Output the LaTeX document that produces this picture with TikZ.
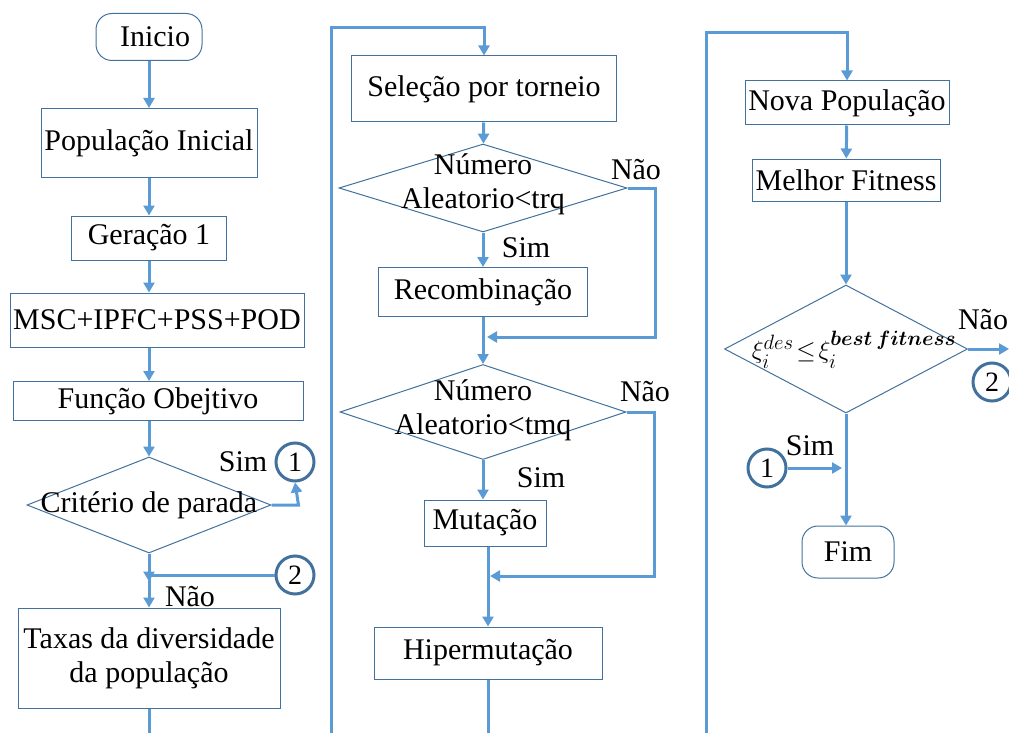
\documentclass[tikz,border=0pt]{standalone}
\usepackage{amsmath}
\usepackage{amssymb}
\usepackage{fontspec}
\setmainfont{Liberation Serif}
\usetikzlibrary{shapes.geometric,arrows.meta}
\definecolor{linhaazul}{RGB}{91,155,213}
\definecolor{bordaazul}{RGB}{65,113,156}

\begin{document}
\begin{tikzpicture}[x=1pt,y=-1pt,
    caixa/.style = {draw=bordaazul, line width=1pt, inner sep=0pt, align=center,
                    font=\fontsize{30}{34}\selectfont},
    terminal/.style = {caixa, rounded corners=16pt},
    decisao/.style = {diamond, draw=bordaazul, line width=1pt, inner sep=0pt},
    texto/.style = {inner sep=0pt, align=center, font=\fontsize{30}{34}\selectfont},
    conector/.style = {circle, draw=bordaazul, line width=3pt, inner sep=0pt,
                       minimum size=38pt, font=\fontsize{28}{30}\selectfont},
    fluxo/.style = {draw=linhaazul, line width=3pt, -{Triangle[length=10pt,width=11pt]}},
    linha/.style = {draw=linhaazul, line width=3pt}]
        \useasboundingbox (0,0) rectangle (1009,733);

        % coluna 1
        \node [terminal, minimum width=106pt, minimum height=47pt] (inicio) at (149,37) {\hspace{12pt}Inicio};
        \node [caixa, minimum width=216pt, minimum height=69pt] (popini) at (149,143) {População Inicial};
        \node [caixa, minimum width=155pt, minimum height=44pt] (ger1) at (149,238) {Geração 1};
        \node [caixa, minimum width=294pt, minimum height=54pt] (msc) at (157,320) {MSC+IPFC+PSS+POD};
        \node [caixa, minimum width=290pt, minimum height=39pt] (funcobj) at (158,401) {Função Obejtivo};
        \node [decisao, minimum width=244pt, minimum height=96pt] (crit) at (149,505) {};
        \node [texto] (crittxt) at (crit) {Critério de parada};
        \node [conector] (c1) at (295,462) {1};
        \node [conector] (c2) at (295,575) {2};
        \node [caixa, minimum width=262pt, minimum height=100pt] (taxas) at (149,658) {Taxas da diversidade\\da população};
        \coordinate (fim1) at (149,740);

        \draw [fluxo] (inicio) -- (popini);
        \draw [fluxo] (popini) -- (ger1);
        \draw [fluxo] (ger1.south) -- (ger1.south |- msc.north);
        \draw [fluxo] (ger1.south |- msc.south) -- (ger1.south |- funcobj.north);
        \draw [fluxo] (ger1.south |- funcobj.south) -- (crit.north);
        \draw [fluxo] (crit.east) -- ++(27,0) -- (c1.south);
        \draw [fluxo] (crit.south) -- ++(0,28);
        \draw [fluxo] (c2.west) -| (taxas.north);
        \draw [linha] (taxas.south) -- (fim1);
        \node [texto] at (243,462) {Sim};
        \node [texto] at (190,597) {Não};

        % coluna 2
        \coordinate (volta1) at (331,740);
        \coordinate (topo1) at (331,28);
        \node [caixa, minimum width=265pt, minimum height=66pt] (sel) at (484,89) {Seleção por torneio};
        \node [decisao, minimum width=288pt, minimum height=88pt] (d1) at (483,188) {};
        \node [texto] (d1txt) at (483,184) {Número\\Aleatorio<trq};
        \node [caixa, minimum width=209pt, minimum height=49pt] (recomb) at (483,292) {Recombinação};
        \coordinate (junta1) at (487,337);
        \node [decisao, minimum width=286pt, minimum height=95pt] (d2) at (483,412) {};
        \node [texto] (d2txt) at (483,410) {Número\\Aleatorio<tmq};
        \node [caixa, minimum width=122pt, minimum height=46pt] (mut) at (485,523) {Mutação};
        \coordinate (junta2) at (490,576);
        \node [caixa, minimum width=228pt, minimum height=52pt] (hip) at (488,653) {Hipermutação};
        \coordinate (fim2) at (488,740);

        \draw [fluxo] (volta1) -- (topo1) -| (sel.north);
        \draw [fluxo] (sel) -- (d1);
        \draw [fluxo] (d1.south) -- (recomb.north);
        \draw [fluxo] (d1.east) -- ++(28,0) |- (junta1);
        \draw [fluxo] (recomb.south) -- (d2.north);
        \draw [fluxo] (d2.east) -- ++(28,0) |- (junta2);
        \draw [fluxo] (d2.south) -- (d2.south |- mut.north);
        \draw [fluxo] (hip.north |- mut.south) -- (hip.north);
        \draw [linha] (hip.south) -- (fim2);
        \node [texto] at (636,170) {Não};
        \node [texto] at (526,248) {Sim};
        \node [texto] at (645,392) {Não};
        \node [texto] at (541,478) {Sim};

        % coluna 3
        \coordinate (volta2) at (706,740);
        \coordinate (topo2) at (706,33);
        \node [caixa, minimum width=204pt, minimum height=44pt] (nova) at (847,103) {Nova População};
        \node [caixa, minimum width=188pt, minimum height=42pt] (melhor) at (846,180) {Melhor Fitness};
        \node [decisao, minimum width=243pt, minimum height=128pt] (d3) at (846,349) {};
        \node [texto, font=\fontsize{31}{34}\selectfont] (d3txt) at (854,350)
            {$\xi_i^{des}\!\leq\!\xi_i^{\boldsymbol{best\,fitness}}$};
        \coordinate (saida) at (1009,349);
        \node [conector] (c2b) at (992,382) {2};
        \node [conector] (c1b) at (767,468) {1};
        \coordinate (entra) at (842,468);
        \node [terminal, minimum width=92pt, minimum height=52pt] (fim) at (848,552) {Fim};

        \draw [fluxo] (volta2) -- (topo2) -| (nova.north);
        \draw [fluxo] (nova) -- (melhor);
        \draw [fluxo] (melhor.south) -- (d3.north);
        \draw [fluxo] (d3.east) -- (saida);
        \draw [fluxo] (d3.south) -- (d3.south |- fim.north);
        \draw [fluxo] (c1b.east) -- (entra);
        \node [texto] at (983,320) {Não};
        \node [texto] at (810,446) {Sim};

    \end{tikzpicture}
\end{document}
